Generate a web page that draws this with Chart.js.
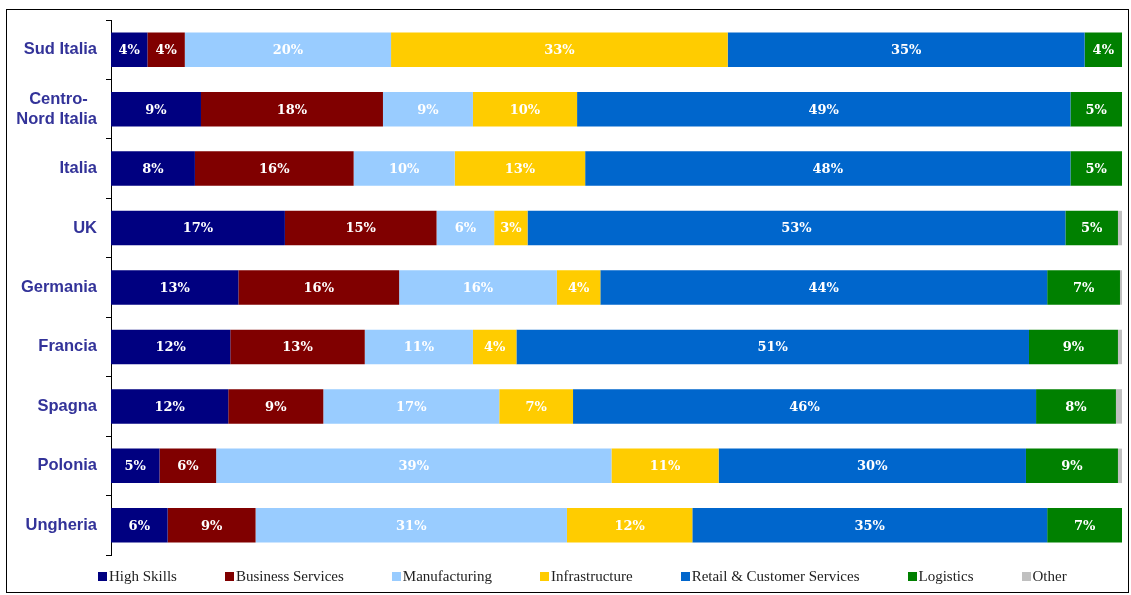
<!DOCTYPE html>
<html>
<head>
<meta charset="utf-8">
<script src="https://cdn.jsdelivr.net/npm/chart.js@4/dist/chart.umd.min.js"></script>
<style>
  body { margin: 0; background: #fff; }
  #wrap { position: relative; width: 1131px; height: 595px; }
  #frame { position: absolute; left: 6px; top: 9px; width: 1121px; height: 582px; border: 1px solid #000; pointer-events: none; }
  #legend { position: absolute; left: 98px; top: 568px; display: flex; font: 15px "Liberation Serif", serif; color: #222; }
  #legend .item { display: flex; align-items: center; margin-right: 48px; }
  #legend .sw { width: 9px; height: 9px; margin-right: 2px; }
</style>
</head>
<body>
<div id="wrap">
  <canvas id="myChart"></canvas>
  <div id="frame"></div>
  <div id="legend"></div>
</div>
<script>
// regions, top to bottom
const categories = [['Sud Italia'], ['Centro-  ', 'Nord Italia'], 'Italia', 'UK', 'Germania', 'Francia', 'Spagna', 'Polonia', 'Ungheria'];

// share of employment by sector (%)
const highSkills       = [3.6, 8.9, 8.3, 17.2, 12.6, 11.8, 11.6, 4.8, 5.6];
const businessServices = [3.7, 18.0, 15.7, 15.0, 15.9, 13.3, 9.4, 5.6, 8.7];
const manufacturing    = [20.4, 8.9, 10.0, 5.7, 15.6, 10.7, 17.4, 39.1, 30.8];
const infrastructure   = [33.3, 10.3, 12.9, 3.3, 4.3, 4.3, 7.3, 10.6, 12.4];
const retail           = [35.3, 48.8, 48.0, 53.2, 44.2, 50.7, 45.8, 30.4, 35.1];
const logistics        = [3.7, 5.1, 5.1, 5.2, 7.2, 8.8, 7.9, 9.1, 7.4];
const other            = [0, 0, 0, 0.4, 0.2, 0.4, 0.6, 0.4, 0];

const seriesNames = ['High Skills', 'Business Services', 'Manufacturing', 'Infrastructure', 'Retail & Customer Services', 'Logistics', 'Other'];
const seriesColors = ['#000080', '#800000', '#99ccff', '#ffcc00', '#0066cc', '#008000', '#c0c0c0'];
const seriesData = [highSkills, businessServices, manufacturing, infrastructure, retail, logistics, other];

/* white percentage labels centred in each segment (not for "Other") */
const segmentLabels = {
  id: 'segmentLabels',
  afterDatasetsDraw(chart) {
    const ctx = chart.ctx;
    ctx.save();
    ctx.font = 'bold 13px "DejaVu Serif", serif';
    ctx.fillStyle = '#fff';
    ctx.textAlign = 'center';
    ctx.textBaseline = 'middle';
    chart.data.datasets.forEach((ds, i) => {
      if (ds.label === 'Other') return;
      chart.getDatasetMeta(i).data.forEach((bar, j) => {
        const v = ds.data[j];
        if (!v) return;
        ctx.fillText(Math.round(v) + '%', (bar.x + bar.base) / 2, bar.y + 1);
      });
    });
    ctx.restore();
  }
};

const datasets = seriesNames.map((name, i) => ({
  label: name,
  data: seriesData[i],
  backgroundColor: seriesColors[i],
  borderWidth: 0,
  categoryPercentage: 0.58,
  barPercentage: 1
}));

new Chart(document.getElementById('myChart'), {
  type: 'bar',
  data: { labels: categories, datasets: datasets },
  options: {
    indexAxis: 'y',
    responsive: true,
    maintainAspectRatio: false,
    animation: false,
    layout: { padding: { top: 20, right: 9, bottom: 40, left: 0 } },
    plugins: {
      legend: { display: false },
      tooltip: { enabled: false }
    },
    scales: {
      x: { stacked: true, min: 0, max: 100, display: false },
      y: {
        stacked: true,
        afterFit(scale) { scale.width = 111; },
        border: { display: true, color: '#000', width: 1 },
        grid: { offset: true, drawOnChartArea: false, drawTicks: true, tickLength: 5, color: '#000' },
        ticks: {
          padding: 9,
          color: '#333399',
          font: { family: '"Liberation Sans", Arial, sans-serif', size: 16.5, weight: 'bold' }
        }
      }
    }
  },
  plugins: [segmentLabels]
});

// legend row under the plot
const legend = document.getElementById('legend');
seriesNames.forEach((name, i) => {
  const item = document.createElement('div');
  item.className = 'item';
  const sw = document.createElement('span');
  sw.className = 'sw';
  sw.style.background = seriesColors[i];
  const txt = document.createElement('span');
  txt.textContent = name;
  item.appendChild(sw);
  item.appendChild(txt);
  legend.appendChild(item);
});
</script>
</body>
</html>
